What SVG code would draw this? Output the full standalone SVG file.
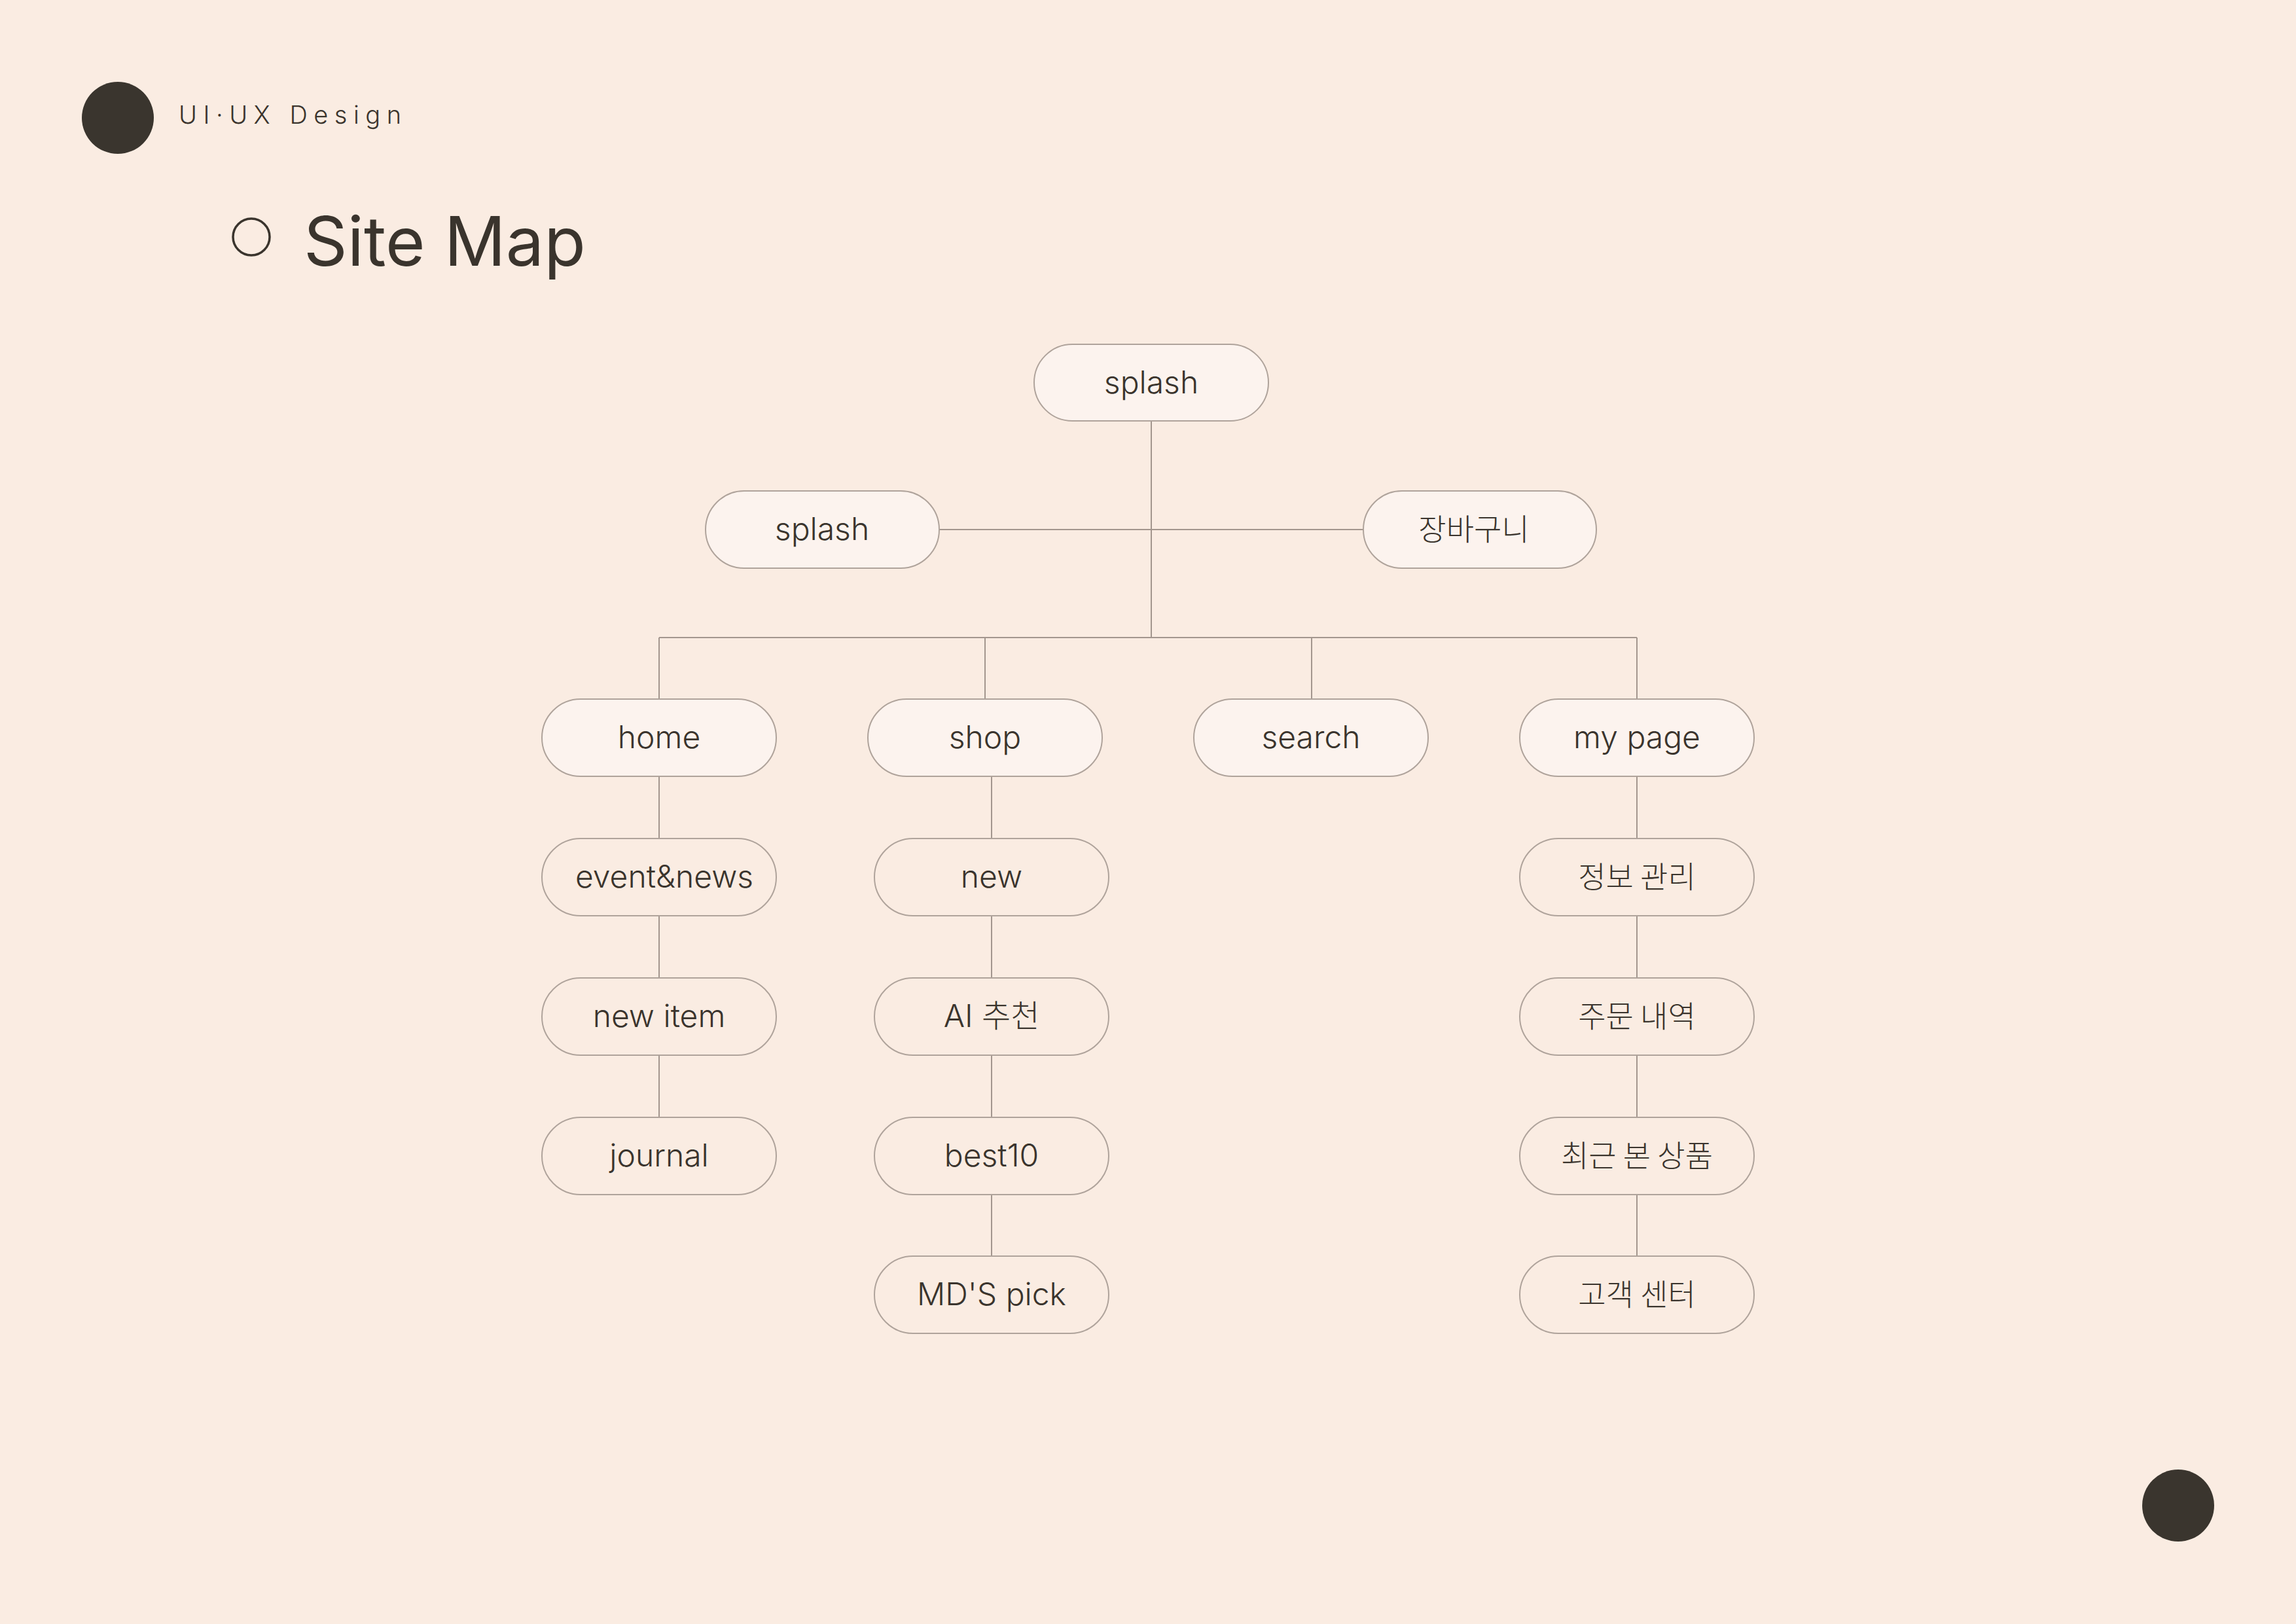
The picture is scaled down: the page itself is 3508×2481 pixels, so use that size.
<svg xmlns="http://www.w3.org/2000/svg" width="3508" height="2481" viewBox="0 0 3508 2481">
<style>
.bg{fill:#FAECE2}
.dot{fill:#3A352E}
.pill{stroke:#AFA39B;stroke-width:2}
.hi{fill:#FCF3EE}
.lo{fill:#FAECE2}
.t{font-family:Inter,"Noto Sans CJK KR",sans-serif;font-weight:300;font-size:48px;fill:#3A342D;text-anchor:middle}
.k{font-family:"Noto Sans CJK KR",sans-serif;font-weight:300;font-size:46px;fill:#3A342D;text-anchor:middle}
.ln{stroke:#A3968E;stroke-width:2;fill:none}
</style>
<rect class="bg" x="0" y="0" width="3508" height="2481"/>
<g id="header">
<circle class="dot" cx="180" cy="180" r="55"/>
<text x="273" y="189" font-family="Inter,sans-serif" font-weight="300" font-size="38" letter-spacing="9.5" fill="#3A342D">UI·UX Design</text>
<circle cx="384" cy="362" r="28" fill="none" stroke="#3A342D" stroke-width="3.5"/>
<text x="464" y="406" font-family="Inter,sans-serif" font-weight="400" font-size="104" fill="#3A342D">Site Map</text>
<circle class="dot" cx="3328" cy="2300" r="55"/>
</g>
<g id="connectors">
<path class="ln" d="M1759 643V974M1435 809H2083M1007 974H2501M1007 974V1068M1505 974V1068M2004 974V1068M2501 974V1068"/>
<path class="ln" d="M1007 1186V1281M1007 1399V1494M1007 1612V1707"/>
<path class="ln" d="M1515 1186V1281M1515 1399V1494M1515 1612V1707M1515 1825V1919"/>
<path class="ln" d="M2501 1186V1281M2501 1399V1494M2501 1612V1707M2501 1825V1919"/>
</g>
<g id="n-splash-top"><rect class="pill hi" x="1580" y="526" width="358" height="117" rx="58.5"/><text class="t" x="1759" y="601">splash</text></g>
<g id="n-splash-left"><rect class="pill hi" x="1078" y="750" width="357" height="118" rx="59"/><text class="t" x="1256" y="825">splash</text></g>
<g id="n-cart"><rect class="pill hi" x="2083" y="750" width="356" height="118" rx="59"/><text class="k" x="2252" y="825">장바구니</text></g>
<g id="n-home"><rect class="pill hi" x="828" y="1068" width="358" height="118" rx="59"/><text class="t" x="1007" y="1143">home</text></g>
<g id="n-shop"><rect class="pill hi" x="1326" y="1068" width="358" height="118" rx="59"/><text class="t" x="1505" y="1143">shop</text></g>
<g id="n-search"><rect class="pill hi" x="1824" y="1068" width="358" height="118" rx="59"/><text class="t" x="2003" y="1143">search</text></g>
<g id="n-mypage"><rect class="pill hi" x="2322" y="1068" width="358" height="118" rx="59"/><text class="t" x="2501" y="1143">my page</text></g>
<g id="n-event"><rect class="pill lo" x="828" y="1281" width="358" height="118" rx="59"/><text class="t" x="1015" y="1356">event&amp;news</text></g>
<g id="n-newitem"><rect class="pill lo" x="828" y="1494" width="358" height="118" rx="59"/><text class="t" x="1007" y="1569">new item</text></g>
<g id="n-journal"><rect class="pill lo" x="828" y="1707" width="358" height="118" rx="59"/><text class="t" x="1007" y="1782">journal</text></g>
<g id="n-new"><rect class="pill lo" x="1336" y="1281" width="358" height="118" rx="59"/><text class="t" x="1515" y="1356">new</text></g>
<g id="n-ai"><rect class="pill lo" x="1336" y="1494" width="358" height="118" rx="59"/><text class="t" x="1515" y="1569">AI 추천</text></g>
<g id="n-best"><rect class="pill lo" x="1336" y="1707" width="358" height="118" rx="59"/><text class="t" x="1515" y="1782">best10</text></g>
<g id="n-md"><rect class="pill lo" x="1336" y="1919" width="358" height="118" rx="59"/><text class="t" x="1515" y="1994">MD'S pick</text></g>
<g id="n-info"><rect class="pill lo" x="2322" y="1281" width="358" height="118" rx="59"/><text class="k" x="2501" y="1356">정보 관리</text></g>
<g id="n-order"><rect class="pill lo" x="2322" y="1494" width="358" height="118" rx="59"/><text class="k" x="2501" y="1569">주문 내역</text></g>
<g id="n-recent"><rect class="pill lo" x="2322" y="1707" width="358" height="118" rx="59"/><text class="k" x="2501" y="1782">최근 본 상품</text></g>
<g id="n-cs"><rect class="pill lo" x="2322" y="1919" width="358" height="118" rx="59"/><text class="k" x="2501" y="1994">고객 센터</text></g>
</svg>
